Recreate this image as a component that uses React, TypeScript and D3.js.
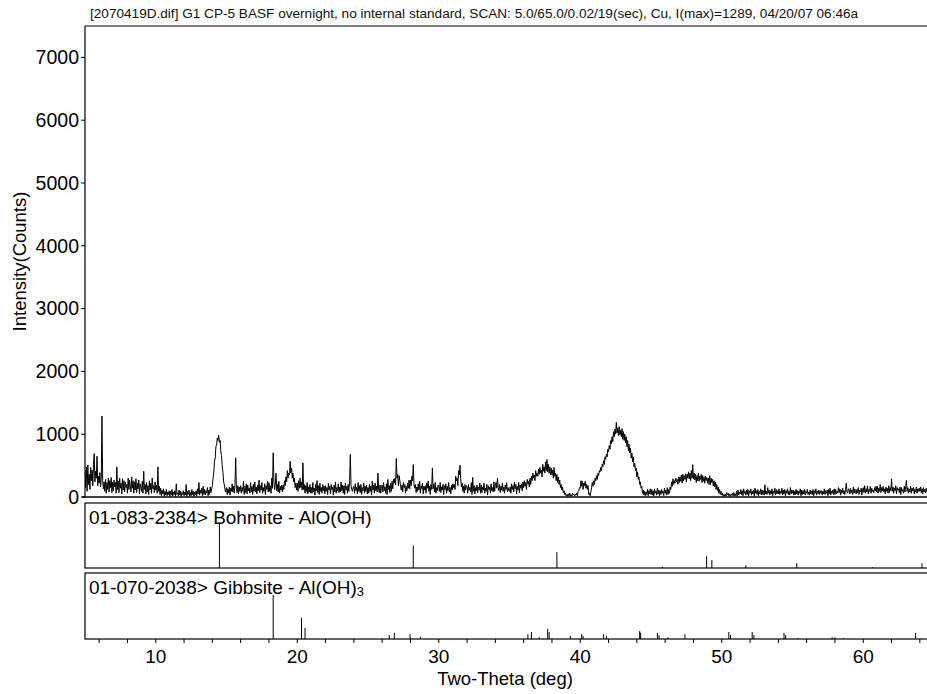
import React from "react";
import * as d3 from "d3";

// Diffraction scan, 2θ from 5.00° to 65.00° in 0.05° steps (counts).
// One array per 5° block, one row per degree.
const scan05 = [
  420, 150, 480, 90, 510, 200, 360, 120, 470, 260, 430, 180, 520, 690, 240, 410, 300, 650, 180, 330,
  220, 390, 160, 300, 1289, 260, 130, 240, 90, 280, 60, 230, 120, 300, 80, 260, 150, 310, 70, 240,
  100, 270, 160, 230, 60, 480, 120, 250, 70, 300, 140, 220, 50, 290, 110, 260, 80, 240, 150, 200,
  60, 300, 120, 270, 180, 80, 320, 140, 260, 60, 240, 110, 290, 70, 220, 130, 270, 50, 210, 160,
  90, 250, 60, 410, 120, 200, 50, 230, 80, 180, 40, 260, 110, 220, 60, 300, 130, 180, 70, 240,
];
const scan10 = [
  110, 190, 60, 480, 90, 170, 40, 140, 20, 110, 50, 130, 10, 90, 30, 120, 20, 80, 40, 100,
  10, 90, 30, 120, 15, 80, 40, 100, 10, 210, 40, 70, 20, 110, 30, 90, 10, 70, 40, 100,
  20, 80, 30, 200, 10, 90, 40, 110, 15, 70, 20, 120, 40, 90, 10, 80, 30, 100, 20, 130,
  50, 230, 30, 110, 60, 140, 20, 170, 40, 120, 30, 100, 60, 150, 20, 110, 40, 160, 70, 130,
  180, 300, 380, 560, 620, 800, 830, 940, 900, 985, 870, 900, 720, 660, 480, 390, 240, 190, 110, 80,
];
const scan15 = [
  150, 40, 130, 60, 160, 30, 140, 90, 210, 80, 170, 60, 200, 624, 140, 70, 180, 50, 160, 90,
  180, 60, 150, 90, 250, 40, 170, 70, 210, 50, 190, 100, 140, 60, 230, 80, 170, 40, 200, 90,
  240, 80, 160, 50, 190, 100, 270, 70, 180, 110, 230, 60, 150, 90, 210, 40, 180, 120, 250, 80,
  230, 90, 180, 60, 300, 140, 705, 240, 120, 200, 380, 100, 200, 80, 250, 60, 170, 110, 190, 80,
  190, 120, 260, 180, 320, 240, 420, 300, 380, 350, 570, 380, 460, 300, 380, 240, 300, 150, 220, 110,
];
const scan20 = [
  220, 90, 260, 140, 300, 150, 240, 110, 543, 120, 200, 60, 180, 90, 230, 50, 160, 80, 200, 60,
  150, 60, 230, 80, 140, 30, 200, 100, 260, 70, 180, 40, 220, 90, 150, 60, 200, 100, 170, 50,
  180, 90, 150, 40, 220, 110, 170, 50, 200, 120, 160, 30, 190, 80, 240, 60, 150, 100, 210, 70,
  160, 80, 240, 100, 190, 60, 180, 40, 220, 110, 170, 60, 200, 90, 260, 678, 180, 120, 90, 150,
  170, 60, 210, 100, 160, 50, 230, 90, 180, 70, 200, 40, 150, 100, 220, 60, 170, 90, 190, 50,
];
const scan25 = [
  150, 60, 200, 90, 170, 30, 250, 110, 190, 60, 220, 100, 170, 80, 380, 120, 70, 190, 60, 160,
  190, 80, 230, 100, 160, 60, 210, 40, 280, 120, 180, 70, 220, 90, 250, 130, 280, 220, 300, 190,
  613, 300, 360, 180, 340, 260, 180, 110, 190, 80, 230, 150, 200, 60, 170, 100, 220, 140, 270, 130,
  270, 180, 330, 260, 516, 200, 140, 200, 70, 160, 90, 210, 110, 250, 60, 180, 130, 220, 50, 170,
  110, 180, 60, 220, 140, 250, 90, 170, 40, 200, 120, 463, 130, 200, 80, 230, 60, 150, 100, 190,
];
const scan30 = [
  170, 90, 230, 70, 160, 110, 200, 40, 180, 120, 210, 60, 170, 100, 230, 80, 150, 50, 190, 110,
  210, 150, 200, 120, 330, 260, 300, 180, 420, 350, 506, 300, 160, 220, 90, 170, 60, 200, 110, 180,
  170, 60, 200, 110, 150, 80, 230, 40, 312, 90, 180, 50, 150, 100, 190, 70, 160, 110, 220, 60,
  190, 70, 160, 110, 220, 60, 140, 90, 200, 30, 180, 120, 160, 60, 210, 100, 150, 80, 240, 90,
  180, 230, 140, 300, 150, 100, 200, 70, 170, 110, 220, 90, 160, 60, 190, 120, 230, 80, 150, 100,
];
const scan35 = [
  90, 160, 60, 210, 120, 180, 80, 240, 130, 200, 50, 170, 110, 230, 70, 190, 140, 210, 100, 240,
  150, 260, 170, 230, 120, 280, 210, 250, 160, 300, 200, 330, 260, 380, 300, 350, 260, 420, 330, 380,
  330, 440, 360, 470, 380, 430, 320, 520, 410, 480, 380, 560, 420, 597, 400, 520, 380, 480, 350, 460,
  350, 430, 300, 470, 330, 380, 260, 360, 230, 320, 200, 270, 150, 200, 110, 160, 70, 100, 40, 60,
  20, 40, 10, 50, 20, 60, 10, 40, 20, 60, 30, 50, 15, 40, 30, 60, 20, 90, 100, 150,
];
const scan40 = [
  140, 260, 170, 250, 120, 220, 180, 250, 140, 200, 120, 180, 40, 60, 20, 80, 150, 230, 170, 260,
  200, 300, 260, 340, 280, 380, 340, 420, 400, 470, 420, 520, 480, 580, 520, 640, 600, 680, 640, 760,
  720, 820, 760, 900, 850, 960, 880, 1040, 960, 1080, 1000, 1190, 1020, 1100, 980, 1120, 990, 1060, 960, 1090,
  920, 1040, 900, 1000, 860, 960, 800, 900, 740, 840, 700, 780, 620, 700, 560, 640, 480, 540, 420, 460,
  320, 400, 280, 320, 200, 240, 140, 170, 60, 110, 30, 90, 20, 80, 40, 120, 20, 100, 50, 130,
];
const scan45 = [
  40, 120, 30, 100, 20, 130, 60, 90, 30, 140, 50, 110, 20, 100, 40, 120, 60, 90, 20, 140,
  60, 110, 30, 150, 40, 120, 60, 160, 120, 240, 170, 290, 200, 260, 220, 300, 240, 280, 200, 320,
  230, 320, 250, 350, 220, 360, 260, 340, 280, 370, 240, 360, 300, 400, 290, 380, 260, 420, 300, 516,
  290, 380, 270, 360, 230, 340, 260, 380, 250, 330, 280, 360, 230, 340, 250, 320, 220, 330, 260, 310,
  220, 300, 200, 340, 190, 300, 230, 280, 180, 260, 160, 240, 120, 200, 100, 160, 60, 120, 40, 90,
];
const scan50 = [
  30, 60, 10, 40, 20, 50, 15, 70, 30, 60, 20, 50, 10, 40, 30, 60, 20, 70, 15, 50,
  20, 90, 10, 110, 30, 80, 50, 120, 40, 100, 20, 130, 60, 90, 30, 110, 40, 120, 20, 100,
  60, 130, 30, 90, 50, 110, 10, 140, 60, 100, 40, 120, 20, 90, 50, 130, 30, 110, 40, 100,
  30, 194, 50, 90, 40, 150, 60, 110, 30, 100, 50, 130, 20, 90, 60, 140, 30, 120, 50, 100,
  50, 130, 40, 90, 60, 140, 30, 110, 50, 120, 20, 100, 60, 130, 40, 90, 30, 150, 50, 110,
];
const scan55 = [
  60, 110, 30, 90, 40, 120, 50, 100, 30, 90, 60, 130, 20, 110, 40, 100, 50, 120, 30, 90,
  60, 120, 40, 80, 30, 110, 50, 90, 40, 120, 20, 100, 60, 130, 30, 90, 50, 110, 40, 100,
  60, 100, 30, 90, 50, 130, 40, 100, 60, 110, 20, 120, 50, 140, 30, 90, 60, 110, 40, 130,
  40, 120, 50, 90, 60, 150, 70, 130, 30, 110, 60, 140, 50, 100, 40, 120, 220, 80, 60, 130,
  120, 50, 140, 70, 110, 40, 160, 60, 130, 90, 50, 120, 70, 150, 40, 110, 80, 140, 30, 120,
];
const scan60 = [
  150, 70, 180, 60, 130, 80, 178, 50, 120, 90, 170, 60, 140, 90, 110, 70, 150, 100, 170, 80,
  170, 60, 140, 90, 200, 70, 150, 100, 170, 80, 130, 50, 160, 90, 140, 60, 180, 70, 150, 100,
  290, 90, 160, 60, 140, 100, 180, 50, 150, 110, 130, 70, 160, 40, 150, 90, 120, 60, 170, 80,
  170, 264, 90, 150, 60, 130, 80, 170, 60, 140, 100, 150, 50, 120, 80, 160, 60, 130, 90, 140,
  90, 160, 70, 130, 50, 150, 80, 120, 60, 140, 90, 170, 60, 130, 40, 150, 80, 120, 60, 140,
  90,
];

const scanStart = 5.0;
const scanStep = 0.05;

// Reference pattern 01-083-2384, Bohmite: 2θ and relative intensity
const bohmiteTheta = [14.5, 28.2, 38.35, 45.8, 48.93, 49.3, 51.7, 55.3, 60.65, 64.15];
const bohmiteRel = [100, 51, 36, 3, 27, 18, 6, 11, 2, 11];

// Reference pattern 01-070-2038, Gibbsite: 2θ and relative intensity
const gibbsiteTheta = [
  18.3, 20.3, 20.55, 26.5, 26.86, 27.97, 28.7, 36.3, 36.55, 37.1, 37.7, 37.8,
  39.3, 40.1, 40.2, 41.65, 41.86, 44.2, 44.27, 45.45, 45.57, 46.2, 47.4, 50.5,
  50.62, 52.15, 52.27, 54.4, 54.52, 55.4, 57.8, 58.0, 58.6, 63.7,
];
const gibbsiteRel = [
  100, 48, 25, 9, 14, 11, 5, 11, 16, 4, 23, 16,
  7, 11, 7, 11, 7, 18, 14, 14, 9, 4, 11, 16,
  9, 16, 9, 14, 9, 2, 4, 4, 2, 14,
];

const yTicks = [0, 1000, 2000, 3000, 4000, 5000, 6000, 7000];
const xLabelTicks = [10, 20, 30, 40, 50, 60];

const titleText =
  "[2070419D.dif] G1 CP-5 BASF overnight, no internal standard, SCAN: 5.0/65.0/0.02/19(sec), Cu, I(max)=1289, 04/20/07 06:46a";
const bohmiteLabel = "01-083-2384> Bohmite - AlO(OH)";
const gibbsiteLabel = "01-070-2038> Gibbsite - Al(OH)";
const xTitle = "Two-Theta (deg)";
const yTitle = "Intensity(Counts)";

const W = 927;
const H = 694;
const FONT = "Arial, 'Liberation Sans', sans-serif";

export default function App() {
  const counts = [
    ...scan05, ...scan10, ...scan15, ...scan20, ...scan25, ...scan30,
    ...scan35, ...scan40, ...scan45, ...scan50, ...scan55, ...scan60,
  ];
  const scan = counts.map((c, i) => ({ t: scanStart + i * scanStep, c }));

  const left = 85;
  const right = 934;
  const mainTop = 26;
  const mainBottom = 497;
  const p1Top = 503;
  const p1Bottom = 568;
  const p2Top = 573;
  const p2Bottom = 639;

  const x = d3.scaleLinear().domain([5, 65]).range([left, right]);
  const y = d3.scaleLinear().domain([0, 7500]).range([mainBottom, mainTop]);
  const stick = d3.scaleLinear().domain([0, 100]).range([0, 44]);

  const line = d3
    .line<{ t: number; c: number }>()
    .x((d) => x(d.t))
    .y((d) => y(d.c));

  const minorTicks = d3.range(6, 65, 2);

  return (
    <svg
      width={W}
      height={H}
      style={{ position: "absolute", left: 0, top: 0, background: "#fff" }}
      fontFamily={FONT}
    >
      <defs>
        <clipPath id="plotClip">
          <rect x={left} y={mainTop} width={right - left} height={mainBottom - mainTop + 1} />
        </clipPath>
      </defs>
      <rect x={0} y={0} width={W} height={H} fill="#fff" />

      {/* title */}
      <text x={90} y={18} fontSize={13.6} fill="#111">
        {titleText}
      </text>

      {/* main plot frame */}
      <line x1={left} x2={right} y1={mainTop} y2={mainTop} stroke="#000" strokeWidth={1.2} />
      <line x1={left} x2={left} y1={mainTop} y2={mainBottom} stroke="#000" strokeWidth={1.2} />

      {/* y axis ticks and labels */}
      {yTicks.map((v) => (
        <g key={v}>
          <line x1={left - 4} x2={left} y1={y(v)} y2={y(v)} stroke="#000" strokeWidth={1} />
          <text x={left - 6} y={y(v)} dy="0.35em" textAnchor="end" fontSize={19.5} fill="#000">
            {v}
          </text>
        </g>
      ))}
      <text
        transform={`translate(20,${(mainTop + mainBottom) / 2}) rotate(-90)`}
        textAnchor="middle"
        dy="0.35em"
        fontSize={18.5}
        fill="#000"
      >
        {yTitle}
      </text>

      {/* scan trace */}
      <path d={line(scan) ?? ""} fill="none" stroke="#000" strokeWidth={1} clipPath="url(#plotClip)" />
      <line x1={left - 3} x2={right} y1={mainBottom} y2={mainBottom} stroke="#000" strokeWidth={1.5} />

      {/* Bohmite reference panel */}
      <rect x={left} y={p1Top} width={right - left + 10} height={p1Bottom - p1Top} fill="none" stroke="#000" strokeWidth={1.2} />
      <text x={89} y={p1Top + 20.5} fontSize={19} fill="#000">
        {bohmiteLabel}
      </text>
      {bohmiteTheta.map((t, i) => (
        <line key={t} x1={x(t)} x2={x(t)} y1={p1Bottom} y2={p1Bottom - stick(bohmiteRel[i])} stroke="#000" strokeWidth={1} />
      ))}

      {/* Gibbsite reference panel */}
      <rect x={left} y={p2Top} width={right - left + 10} height={p2Bottom - p2Top} fill="none" stroke="#000" strokeWidth={1.2} />
      <text x={89} y={p2Top + 20.5} fontSize={19} fill="#000">
        {gibbsiteLabel}
        <tspan fontSize={13} dy={2}>3</tspan>
      </text>
      {gibbsiteTheta.map((t, i) => (
        <line key={t} x1={x(t)} x2={x(t)} y1={p2Bottom} y2={p2Bottom - stick(gibbsiteRel[i])} stroke="#000" strokeWidth={1} />
      ))}

      {/* x axis */}
      {minorTicks.map((t) => (
        <line key={t} x1={x(t)} x2={x(t)} y1={p2Bottom} y2={p2Bottom + 4} stroke="#000" strokeWidth={1} />
      ))}
      {xLabelTicks.map((t) => (
        <text key={t} x={x(t)} y={663} textAnchor="middle" fontSize={19} fill="#000">
          {t}
        </text>
      ))}
      <text x={505} y={685} textAnchor="middle" fontSize={18.5} fill="#000">
        {xTitle}
      </text>
    </svg>
  );
}
